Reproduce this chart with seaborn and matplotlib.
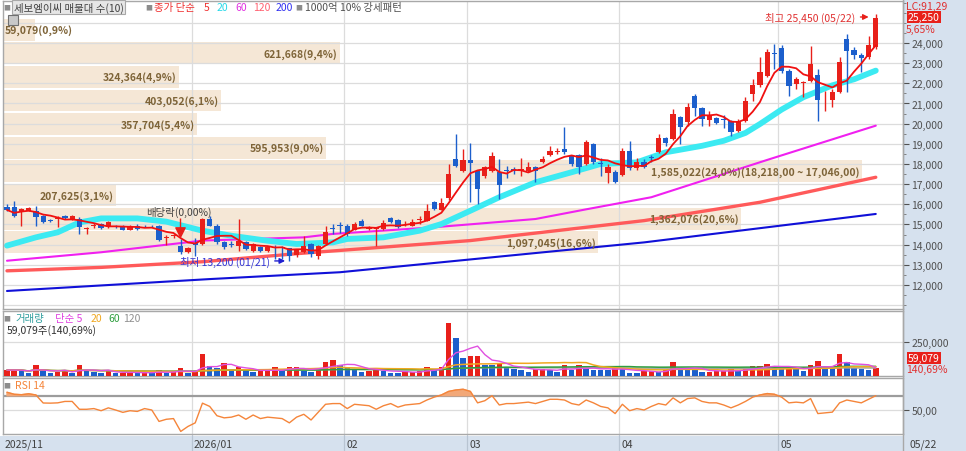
import matplotlib
matplotlib.use("Agg")
import matplotlib.pyplot as plt
import seaborn as sns
import numpy as np
import pandas as pd
from matplotlib.patches import Rectangle
from matplotlib.lines import Line2D
from matplotlib.ticker import FuncFormatter, FixedLocator, MultipleLocator

sns.set_theme(style="white")
plt.rcParams['font.family'] = ['Noto Sans CJK KR', 'DejaVu Sans']
plt.rcParams['axes.unicode_minus'] = False

# 일봉 데이터 (2025/11 말 ~ 2026/05/22), 차트에서 읽은 값
open_ = [15880, 15850, 15620, 15680, 15680, 15400, 15200, 15260, 15430, 15240,
         15270, 14760, 14920, 15020, 14860, 14880, 14940, 14740, 14940, 14920,
         14920, 14940, 14330, 14420, 13950, 13650, 14060, 14030, 15270, 14940,
         14110, 14050, 13950, 14150, 13700, 13900, 13700, 13900, 13900, 13820,
         13480, 13650, 14030, 13450, 14030, 14830, 14960, 14940, 14740, 15190,
         14790, 14790, 14770, 15300, 15230, 15000, 14940, 15240, 15190, 16100,
         15730, 16300, 18250, 17660, 18210, 17660, 17420, 17660, 17620, 17700,
         17760, 17720, 17660, 17860, 18110, 18440, 18580, 18740, 18380, 18450,
         18000, 19000, 18050, 17550, 17620, 17460, 18660, 17810, 18100, 18300,
         18610, 19270, 19240, 20310, 20070, 21390, 20760, 20200, 20270, 20220,
         20140, 19650, 20150, 21470, 21920, 22380, 23520, 23740, 22630, 21970,
         22000, 22130, 22410, 21200, 21190, 21550, 24200, 23670, 23410, 23290,
         23790]
high = [16000, 16150, 15800, 15870, 15900, 15450, 15260, 15400, 15480, 15450,
        15350, 14860, 15050, 15080, 15150, 14960, 14990, 14960, 15000, 14990,
        14990, 14980, 14500, 14520, 14300, 13900, 14320, 15300, 15400, 15020,
        14200, 14200, 15250, 14200, 14100, 13950, 13950, 14000, 13950, 13850,
        13800, 14410, 14100, 14000, 14900, 15000, 15100, 15000, 15100, 15250,
        14900, 14880, 15200, 15350, 15280, 15150, 15250, 15400, 16010, 16150,
        16300, 18000, 19490, 18740, 19040, 17700, 17900, 18600, 18250, 17900,
        17850, 18300, 18100, 17900, 18400, 18900, 18800, 19830, 18450, 18500,
        19190, 19050, 18300, 18000, 17700, 18800, 19150, 18300, 18250, 18450,
        19500, 19350, 20730, 20400, 21000, 21450, 20850, 20620, 20350, 20420,
        20200, 20250, 21300, 22200, 23290, 23700, 23950, 23900, 22700, 22300,
        22100, 23870, 22710, 21620, 21700, 23300, 24450, 23800, 23500, 24350,
        25450]
low = [15650, 15350, 14940, 15650, 14940, 15050, 15100, 14860, 15250, 15200,
       14530, 14530, 14800, 14760, 14820, 14800, 14700, 14700, 14740, 14850,
       14850, 14200, 14000, 14350, 13550, 13580, 13450, 14000, 14900, 14050,
       13800, 13900, 13700, 13750, 13650, 13650, 13650, 13300, 13300, 13200,
       13400, 13600, 13370, 13300, 14000, 14550, 14600, 14450, 14700, 14900,
       14700, 13950, 14740, 15080, 14820, 14900, 14900, 15000, 15150, 15700,
       15700, 16200, 17850, 17600, 16110, 16010, 17300, 17600, 16260, 17300,
       17500, 17400, 17600, 17100, 18050, 18400, 18500, 18500, 17900, 17500,
       17950, 18000, 17400, 17060, 17050, 17400, 17700, 17700, 17800, 18100,
       18550, 18900, 19200, 18990, 19900, 20400, 19900, 19900, 20000, 19800,
       19400, 19600, 20100, 21100, 21800, 22300, 22710, 22500, 21390, 21700,
       21320, 22050, 20150, 20630, 20830, 21500, 21570, 23200, 22560, 23200,
       23700]
close = [15720, 15430, 15770, 15800, 15350, 15100, 15160, 15300, 15300, 15400,
         14860, 14800, 14960, 14810, 15100, 14860, 14740, 14900, 14770, 14900,
         14900, 14240, 14360, 14480, 13620, 13820, 14000, 15270, 14940, 14110,
         13870, 14000, 14200, 13800, 14030, 13700, 13900, 13850, 13850, 13450,
         13780, 13920, 13530, 13950, 14610, 14790, 14920, 14530, 15020, 14940,
         14830, 14830, 15070, 15100, 14860, 15040, 15100, 15290, 15680, 15770,
         16060, 17500, 17880, 18210, 18050, 16760, 17840, 18410, 16950, 17660,
         17660, 17760, 17860, 17660, 18250, 18660, 18620, 18580, 18000, 17850,
         19070, 18100, 18000, 17860, 17120, 18660, 17780, 18100, 17860, 18280,
         19270, 19040, 20480, 19820, 20810, 20760, 20220, 20430, 20040, 20200,
         19600, 20140, 21110, 21920, 22580, 23540, 23470, 22630, 21880, 22210,
         22040, 22960, 21190, 21240, 21550, 23070, 23620, 23410, 23240, 23900,
         25250]
volume = [44000, 44000, 42000, 20000, 79000, 37000, 20000, 32000, 44000, 20000,
          81000, 44000, 30000, 25000, 37000, 20000, 25000, 27000, 22000, 27000,
          22000, 44000, 25000, 27000, 62000, 20000, 32000, 160000, 74000, 62000,
          99000, 37000, 67000, 37000, 30000, 37000, 38000, 69000, 37000, 67000,
          69000, 37000, 32000, 62000, 106000, 116000, 79000, 69000, 54000, 30000,
          37000, 57000, 37000, 25000, 20000, 30000, 31000, 37000, 69000, 44000,
          69000, 395000, 284000, 131000, 148000, 150000, 81000, 80000, 91000, 67000,
          49000, 48000, 32000, 49000, 52000, 47000, 33000, 79000, 42000, 79000,
          49000, 48000, 47000, 46000, 62000, 55000, 25000, 20000, 37000, 38000,
          30000, 45000, 107000, 49000, 48000, 47000, 30000, 31000, 37000, 38000,
          50000, 37000, 55000, 73000, 74000, 91000, 67000, 49000, 73000, 49000,
          37000, 79000, 111000, 62000, 61000, 161000, 106000, 57000, 50000, 42000,
          59079]
rsi = [74.8, 72, 71.4, 72.7, 71, 59.8, 59.6, 60, 62, 62,
       51, 51, 52, 49, 53, 50, 46.7, 49, 48, 52,
       50, 34, 37, 38, 20, 27, 32, 59.6, 55, 42,
       39, 40, 43, 37, 43, 38, 40, 39, 38, 32,
       40, 44, 36, 47, 58, 59, 59, 52, 58, 57,
       56, 51, 56, 59, 54, 57, 58, 59, 64, 68,
       71, 76, 78, 79, 76, 60, 63, 70, 57, 59,
       59, 60, 61, 59, 62, 65, 65, 64, 59, 57,
       64, 60, 55, 53, 45, 58, 49, 52, 50, 55,
       59, 57, 67, 60, 66, 67, 62, 60, 60, 57,
       53, 57, 62, 68, 71, 73, 72, 68, 60, 61,
       60, 66, 45, 46, 47, 60, 64, 62, 60, 65,
       70]

# 장기 이동평균 (차트에서 읽은 점)
ma20_idx = [0, 4, 7, 10, 13, 18, 22, 27, 31, 36, 40, 45, 47, 52, 57, 60, 64, 68, 73,
            78, 82, 87, 91, 96, 99, 102, 104, 107, 110, 114, 117, 120]
ma20_val = [13950, 14360, 14610, 15100, 15300, 15300, 15140, 14690, 14440, 14190, 14030,
            14110, 14280, 14360, 14690, 15020, 15680, 16350, 17090, 17590, 18000, 18080,
            18580, 18900, 19150, 19540, 19980, 20700, 21310, 21900, 22200, 22630]
ma60_idx = [0, 13, 27, 41, 45, 59, 73, 80, 89, 105, 120]
ma60_val = [13200, 13620, 14200, 14360, 14530, 14860, 15270, 15750, 16350, 18200, 19900]
ma120_idx = [0, 13, 27, 40, 64, 88, 104, 120]
ma120_val = [12700, 12870, 13150, 13550, 14200, 15190, 16100, 17340]
ma200_idx = [0, 28, 46, 67, 88, 120]
ma200_val = [11700, 12290, 12630, 13370, 14110, 15520]

# 매물대 (10개)
band_low = [13530, 14702, 15874, 17046, 18218, 19390, 20562, 21734, 22906, 24078]
band_step = 1172
band_vol = [1097045, 1362076, 207625, 1585022, 595953, 357704, 403052, 324364, 621668, 59079]
band_pct = [16.6, 20.6, 3.1, 24.0, 9.0, 5.4, 6.1, 4.9, 9.4, 0.9]

month_labels = ['2025/11', '2026/01', '02', '03', '04', '05']
month_start = [0, 26, 47, 64, 85, 107]

df = pd.DataFrame({'open': open_, 'high': high, 'low': low, 'close': close,
                   'volume': volume, 'rsi': rsi})
df['idx'] = np.arange(len(df))
df['ma5'] = df['close'].rolling(5, min_periods=1).mean()
for n in (5, 20, 60, 120):
    df[f'vma{n}'] = df['volume'].rolling(n, min_periods=1).mean()

RED = '#E8201A'
BLUE = '#1C5FCC'
GRID = '#DCDCDC'
STRIP = '#D6E1EE'
BAND = '#F5E7D6'
BANDTXT = '#7E6438'

W, H = 966, 452
fig = plt.figure(figsize=(W / 100, H / 100), dpi=100)
fig.patch.set_facecolor('white')

def px_axes(l, t, r, b):
    return fig.add_axes([l / W, 1 - b / H, (r - l) / W, (b - t) / H])

def ftext(x, y, s, **kw):
    kw.setdefault('va', 'center')
    kw.setdefault('fontsize', 7.5)
    return fig.text(x / W, 1 - y / H, s, **kw)

# 오른쪽 / 아래쪽 축 배경
fig.patches.append(Rectangle((903 / W, 0), (W - 903) / W, 1, transform=fig.transFigure,
                             facecolor=STRIP, edgecolor='none', zorder=-5))
fig.patches.append(Rectangle((0, 0), 903 / W, (H - 437) / H, transform=fig.transFigure,
                             facecolor=STRIP, edgecolor='none', zorder=-5))

XL = (-0.55, 123.76)
ax = px_axes(3, 2, 903, 310)
axv = px_axes(3, 312, 903, 377)
axr = px_axes(3, 379, 903, 435)

for a in (ax, axv, axr):
    a.set_xlim(*XL)
    a.set_facecolor('white')
    for s in a.spines.values():
        s.set_color('#A8A8A8')
        s.set_linewidth(1)
    a.set_xticks([])
    a.yaxis.tick_right()
    a.tick_params(axis='y', direction='out', length=4, width=0.8, colors='#505050',
                  labelsize=7.5, pad=2)
    for m in month_start[1:]:
        a.axvline(m - 0.45, color=GRID, lw=0.9, zorder=1)

# ---- 가격 패널 ----
ax.set_ylim(10806, 26083)
for lv in range(11000, 26000, 1000):
    ax.axhline(lv, color=GRID, lw=0.9, zorder=1)

max_vol = max(band_vol)
span = 118.1 - XL[0]
for lo, v, p in zip(band_low, band_vol, band_pct):
    w = v / max_vol * span
    ax.barh(lo + band_step / 2, w, height=band_step * 0.93, left=XL[0], color=BAND,
            edgecolor='none', zorder=0.5)
    lab = f"{v:,}({p:.1f}%)".replace('.', ',')
    if v == max_vol:
        lab += f"({lo + band_step:,.2f} ~ {lo:,.2f})".replace('.', ',')
    if w * 7.24 < 95:
        ax.text(XL[0] + 0.3, lo + band_step / 2, lab, ha='left', va='center', fontsize=7.5,
                color=BANDTXT, fontweight='bold', zorder=6)
    else:
        ax.text(XL[0] + w - 0.3, lo + band_step / 2, lab, ha='right', va='center',
                fontsize=7.5, color=BANDTXT, fontweight='bold', zorder=6)

sns.lineplot(x=ma200_idx, y=ma200_val, ax=ax, color='#1010D8', lw=1.5, zorder=2)
sns.lineplot(x=ma120_idx, y=ma120_val, ax=ax, color='#FF5A5A', lw=2.4, zorder=2)
sns.lineplot(x=ma60_idx, y=ma60_val, ax=ax, color='#F020F0', lw=1.5, zorder=2)
sns.lineplot(x=ma20_idx, y=ma20_val, ax=ax, color='#3CEAF2', lw=4.2, zorder=2)

col = np.where(df['close'] >= df['open'], RED, BLUE)
ax.vlines(df['idx'], df['low'], df['high'], colors=col, lw=1, zorder=4)
body = (df['close'] - df['open']).abs().clip(lower=45)
ax.bar(df['idx'], body, bottom=np.minimum(df['open'], df['close']), width=0.72,
       color=col, linewidth=0, zorder=5)
sns.lineplot(data=df, x='idx', y='ma5', ax=ax, color='#F01010', lw=1.3, zorder=6)

ax.yaxis.set_major_locator(FixedLocator(list(range(12000, 25000, 1000))))
ax.yaxis.set_minor_locator(MultipleLocator(500))
ax.tick_params(axis='y', which='minor', direction='out', length=2, width=0.6,
               colors='#707070', right=True, left=False)
ax.yaxis.set_major_formatter(FuncFormatter(lambda v, p: f"{v:,.0f}"))
ax.set_xlabel('')
ax.set_ylabel('')

# 배당락 표시
ax.text(23.7, 15640, '배당락(0,00%)', ha='center', va='center', fontsize=7.5, color='#404040', zorder=7)
ax.vlines(23.9, 14700, 15330, color=RED, lw=1, zorder=7)
ax.scatter([23.9], [14620], marker='v', s=45, color=RED, zorder=7)

# 최저 / 최고
ax.annotate('', xy=(38.8, 13190), xytext=(36.6, 13190),
            arrowprops=dict(arrowstyle='-|>', color='#2020D0', lw=1, mutation_scale=8), zorder=7)
ax.text(36.3, 13190, '최저 13,200 (01/21)', ha='right', va='center', fontsize=7.5,
        color='#3434D4', zorder=7)
ax.annotate('', xy=(119.4, 25290), xytext=(117.5, 25290),
            arrowprops=dict(arrowstyle='-|>', color=RED, lw=1, mutation_scale=8), zorder=7)
ax.text(117.1, 25290, '최고 25,450 (05/22)', ha='right', va='center', fontsize=7.5,
        color='#E03030', zorder=7)

# ---- 거래량 패널 ----
axv.set_ylim(0, 482000)
axv.axhline(250000, color=GRID, lw=0.9, zorder=1)
vcol = [RED] + [RED if volume[i] >= volume[i - 1] else BLUE for i in range(1, len(volume))]
axv.bar(df['idx'], df['volume'], width=0.76, color=vcol, linewidth=0, zorder=3)
sns.lineplot(data=df, x='idx', y='vma120', ax=axv, color='#A0A0A0', lw=1, zorder=4)
sns.lineplot(data=df, x='idx', y='vma60', ax=axv, color='#2E9E3E', lw=1.1, zorder=4)
sns.lineplot(data=df, x='idx', y='vma20', ax=axv, color='#F0A820', lw=1.1, zorder=4)
sns.lineplot(data=df, x='idx', y='vma5', ax=axv, color='#E050E0', lw=1, zorder=4)
axv.yaxis.set_major_locator(FixedLocator([250000]))
axv.yaxis.set_major_formatter(FuncFormatter(lambda v, p: f"{v:,.0f}"))
axv.set_xlabel('')
axv.set_ylabel('')

# ---- RSI 패널 ----
axr.set_ylim(16.4, 94.8)
axr.axhline(70, color='#9C9C9C', lw=1.6, zorder=1)
axr.axhline(50, color=GRID, lw=0.9, zorder=1)
r = np.array(rsi)
axr.fill_between(df['idx'], 70, r, where=r > 70, interpolate=True, color='#F2A878', zorder=2)
sns.lineplot(data=df, x='idx', y='rsi', ax=axr, color='#F5853A', lw=1, zorder=3)
axr.yaxis.set_major_locator(FixedLocator([50]))
axr.yaxis.set_major_formatter(FuncFormatter(lambda v, p: f"{v:.2f}".replace('.', ',')))
axr.set_xlabel('')
axr.set_ylabel('')

# ---- 범례 텍스트 ----
SQ = dict(fontsize=5, color='#8C8C8C')
ftext(3, 8, '■', **SQ)
ftext(14, 8, '세보엠이씨 매물대 수(10)', color='#404040',
      bbox=dict(boxstyle='square,pad=0.15', facecolor='#E6E6E6', edgecolor='#A8A8A8', lw=0.8))
ftext(145, 8, '■', **SQ)
ftext(154, 8, '종가 단순', color='#F03030')
ftext(204, 8, '5', color='#F03030')
ftext(217, 8, '20', color='#28D8E8')
ftext(235, 8, '60', color='#E030E0')
ftext(253, 8, '120', color='#FF6070')
ftext(276, 8, '200', color='#3030F0')
ftext(295, 8, '■', **SQ)
ftext(305, 8, '1000억 10% 강세패턴', color='#505050')
fig.patches.append(Rectangle((8 / W, 1 - 26 / H), 10 / W, 10 / H, transform=fig.transFigure,
                             facecolor='#C8C8C8', edgecolor='#707070', lw=0.8, zorder=10))

ftext(3, 319, '■', **SQ)
ftext(15, 319, '거래량', color='#2E9E9E')
ftext(55, 319, '단순 5', color='#E040E0')
ftext(91, 319, '20', color='#F0A820')
ftext(108, 319, '60', color='#2E9E3E')
ftext(123, 319, '120', color='#909090')
ftext(7, 331, '59,079주(140,69%)', color='#303030')

ftext(3, 386, '■', **SQ)
ftext(15, 386, 'RSI 14', color='#F5853A')

# 오른쪽 축 표시
ftext(906, 7, 'LC:91,29', color='#E03030')
ftext(908, 18, '25,250', color='white',
      bbox=dict(boxstyle='square,pad=0.1', facecolor='#E8201A', edgecolor='none'))
ftext(906, 30, '5,65%', color='#E03030')
ftext(908, 359, '59,079', color='white',
      bbox=dict(boxstyle='square,pad=0.1', facecolor='#E8201A', edgecolor='none'))
ftext(906, 370, '140,69%', color='#E03030')

# 아래쪽 날짜 축
for lab, m in zip(month_labels, month_start):
    xp = 7 + 7.24 * (m - 0.45)
    if m == 0:
        xp = 3
    else:
        fig.add_artist(Line2D([xp / W, xp / W], [0, (H - 436) / H], color='#B8C4D2', lw=0.9))
    ftext(xp + 2, 445, lab, color='#404040')
ftext(910, 445, '05/22', color='#404040')
fig.add_artist(Line2D([903 / W, 903 / W], [0, 1], color='#A8A8A8', lw=1))

fig.savefig('out.png', dpi=100, facecolor='white')
